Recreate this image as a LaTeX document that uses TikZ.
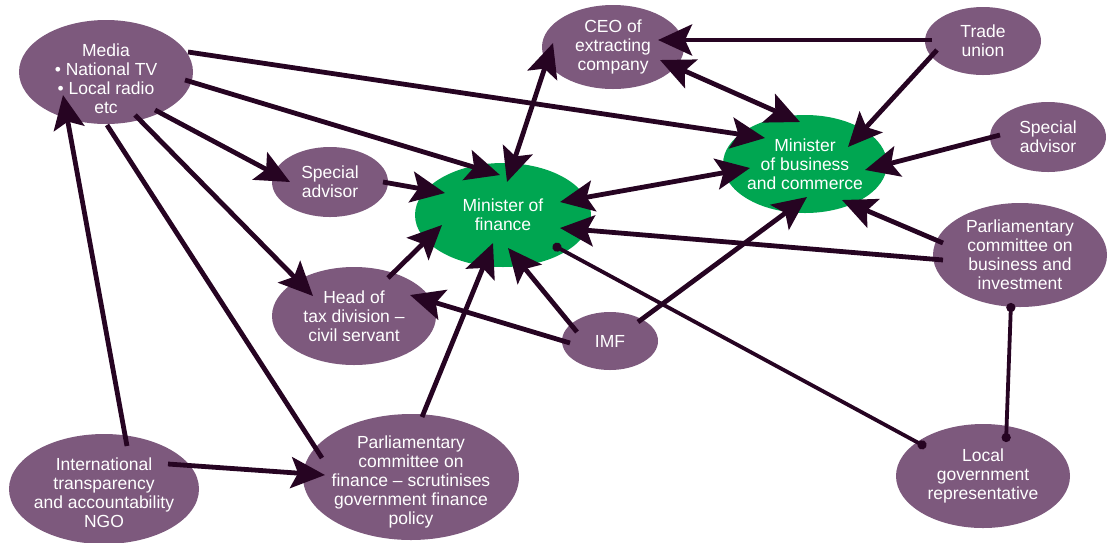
\documentclass[tikz,border=0pt]{standalone}
\usepackage{fontspec}
\setmainfont{Liberation Sans}
\usetikzlibrary{arrows.meta,calc,shapes.geometric}
\definecolor{plum}{RGB}{125,89,125}
\definecolor{mgreen}{RGB}{0,166,81}
\definecolor{linecol}{RGB}{38,4,34}
\tikzset{
  actor/.style={ellipse, fill=plum, text=white, inner sep=0pt, align=center,
    font=\fontsize{17.5}{19}\selectfont},
  minister/.style={actor, fill=mgreen},
  labtext/.style={text=white, align=center, inner sep=0pt, font=\fontsize{17.5}{19}\selectfont},
  conn/.style={draw=linecol, line width=4.8pt},
  arr/.style={conn, -{Stealth[length=34pt,width=31pt,inset=7pt]}},
  darr/.style={conn, {Stealth[length=34pt,width=31pt,inset=7pt]}-{Stealth[length=34pt,width=31pt,inset=7pt]}},
  dots/.style={draw=linecol, line width=3.8pt, {Circle[length=9pt]}-{Circle[length=9pt]}}
}
\begin{document}
\begin{tikzpicture}[x=1pt,y=-1pt]
\useasboundingbox (0,0) rectangle (1113,542);
\node[actor, minimum width=174pt, minimum height=104pt,
  label={[labtext,yshift=-7pt]center:{Media\\• National TV\\• Local radio\\etc}}] (media) at (106,72) {};
\node[actor, minimum width=142pt, minimum height=84pt] (ceo) at (613,47) {CEO of\\extracting\\company};
\node[actor, minimum width=116pt, minimum height=68pt] (tu) at (983,41) {Trade\\union};
\node[minister, minimum width=164pt, minimum height=98pt] (mob) at (805,164) {Minister\\of business\\and commerce};
\node[actor, minimum width=116pt, minimum height=70pt] (sar) at (1048,137) {Special\\advisor};
\node[actor, minimum width=174pt, minimum height=104pt] (pcb) at (1020,255) {Parliamentary\\committee on\\business and\\investment};
\node[actor, minimum width=116pt, minimum height=70pt] (sal) at (330,182) {Special\\advisor};
\node[minister, minimum width=176pt, minimum height=104pt] (mof) at (503,215) {Minister of\\finance};
\node[actor, minimum width=164pt, minimum height=98pt] (tax) at (354,316) {Head of\\tax division –\\civil servant};
\node[actor, minimum width=96pt, minimum height=58pt] (imf) at (610,341) {IMF};
\node[actor, minimum width=216pt, minimum height=126pt,
  label={[labtext,yshift=-5pt]center:{Parliamentary\\committee on\\finance – scrutinises\\government finance\\policy}}] (pcf) at (411,477) {};
\node[actor, minimum width=190pt, minimum height=110pt,
  label={[labtext,yshift=-4pt]center:{International\\transparency\\and accountability\\NGO}}] (ngo) at (104,489) {};
\node[actor, minimum width=174pt, minimum height=104pt] (lgr) at (983,476) {Local\\government\\representative};

\draw[arr] ($(media)+(82,-20)$) -- ($(mob)+(-40,-26)$);
\draw[arr] ($(media)+(79,8)$) -- ($(mof)+(-3,-40)$);
\draw[arr] ($(media)+(49,38)$) -- ($(sal)+(-40,0)$);
\draw[arr] ($(media)+(29,43)$) -- ($(tax)+(-41,-20)$);
\draw[conn] ($(media)+(1,53)$) -- ($(pcf)+(-89,-19)$);
\draw[arr] ($(ngo)+(23,-43)$) -- ($(media)+(-43,23)$);
\draw[arr] ($(ngo)+(64,-25)$) -- ($(pcf)+(-86,-2)$);
\draw[arr] ($(sal)+(53,0)$) -- ($(mof)+(-58,-22)$);
\draw[arr] ($(tax)+(34,-38)$) -- ($(mof)+(-61,10)$);
\draw[arr] ($(imf)+(-40,2)$) -- ($(tax)+(56,-21)$);
\draw[arr] ($(imf)+(-33,-9)$) -- ($(mof)+(5,33)$);
\draw[arr] ($(imf)+(28,-19)$) -- ($(mob)+(2,33)$);
\draw[arr] ($(pcf)+(11,-60)$) -- ($(mof)+(-10,28)$);
\draw[dots] ($(mof)+(50,30)$) -- ($(lgr)+(-57,-29)$);
\draw[darr] ($(ceo)+(-60,-4)$) -- ($(mof)+(4,-33)$);
\draw[arr] ($(tu)+(-51,-1)$) -- ($(ceo)+(45,-7)$);
\draw[darr] ($(ceo)+(47,13)$) -- ($(mob)+(-5,-42)$);
\draw[arr] ($(tu)+(-46,9)$) -- ($(mob)+(43,-17)$);
\draw[arr] ($(sar)+(-48,-2)$) -- ($(mob)+(60,6)$);
\draw[arr] ($(pcb)+(-77,-12)$) -- ($(mob)+(37,36)$);
\draw[arr] ($(pcb)+(-77,5)$) -- ($(mof)+(57,13)$);
\draw[darr] ($(mof)+(57,-13)$) -- ($(mob)+(-55,4)$);
\draw[dots] ($(pcb)+(-9,48)$) -- ($(lgr)+(23,-34)$);
\end{tikzpicture}
\end{document}
